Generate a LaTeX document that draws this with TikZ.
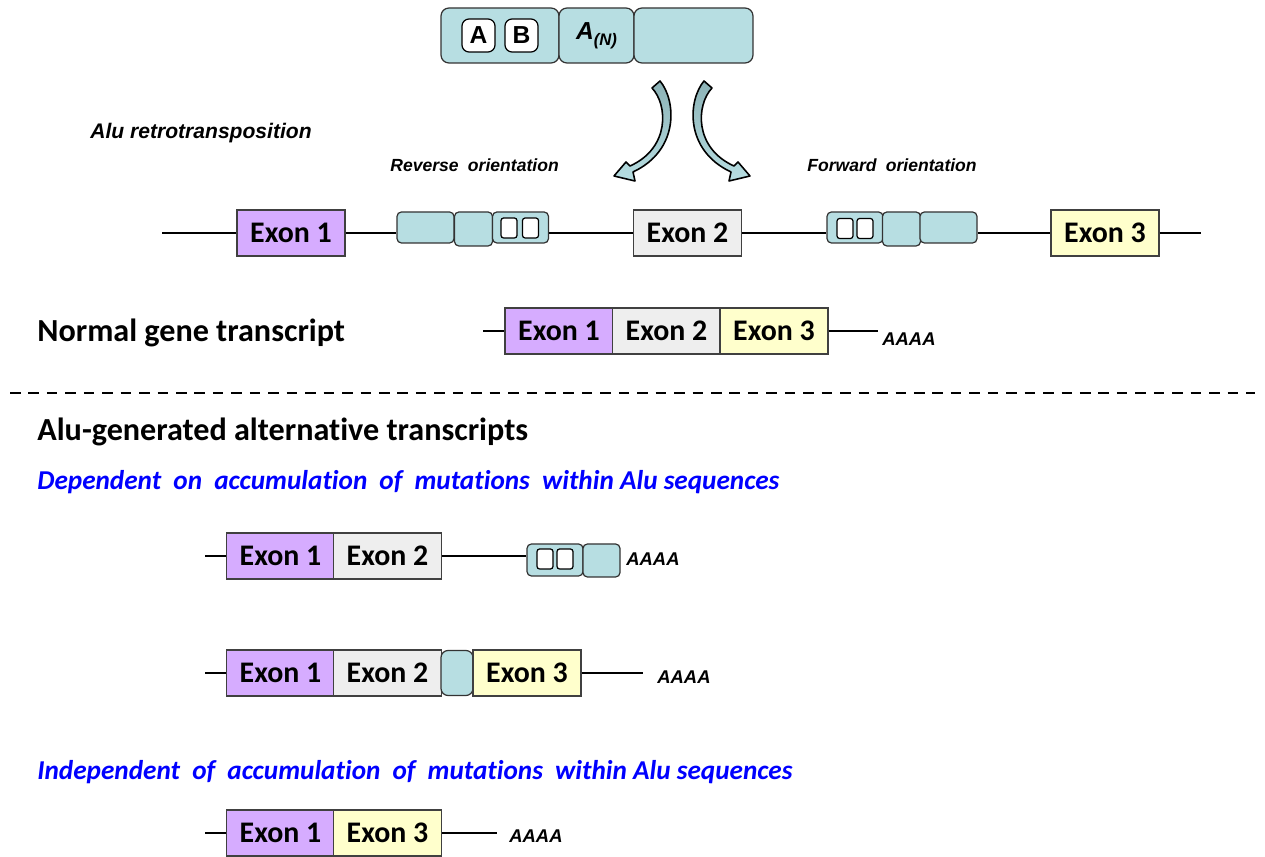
\documentclass[tikz,border=0pt]{standalone}
\usepackage{fontspec}
\setmainfont{Carlito}[Ligatures=NoCommon]
\newfontfamily\arialfont{Liberation Sans}

\definecolor{alufill}{RGB}{183,222,226}
\definecolor{arrowtop}{RGB}{140,178,182}
\definecolor{exonA}{RGB}{214,172,255}
\definecolor{exonB}{RGB}{238,238,238}
\definecolor{exonC}{RGB}{255,255,204}
\definecolor{mutblue}{RGB}{0,0,255}

\tikzset{
  exon/.style={draw=black!75, line width=0.6pt, minimum width=2.16cm,
    minimum height=0.92cm, inner sep=0pt,
    font=\bfseries\fontsize{17}{20}\selectfont},
  aluseg/.style={draw=black!80, fill=alufill, line width=0.7pt,
    rounded corners=2.5pt, inner sep=0pt},
  alubox/.style={draw=black, fill=white, line width=0.7pt,
    rounded corners=1.5pt, minimum width=0.32cm, minimum height=0.40cm,
    inner sep=0pt},
  motif/.style={draw=black, fill=white, line width=0.7pt, rounded corners=4pt,
    minimum size=0.66cm, inner sep=0pt,
    font=\arialfont\bfseries\fontsize{14}{16}\selectfont},
  strand/.style={line width=1.4pt},
  polyA/.style={anchor=west, inner sep=0pt,
    font=\arialfont\bfseries\itshape\fontsize{10.5}{12}\selectfont},
  heading/.style={anchor=west, inner sep=0pt,
    font=\bfseries\fontsize{18.3}{22}\selectfont},
  subhead/.style={anchor=west, inner sep=0pt, text=mutblue,
    font=\bfseries\itshape\fontsize{15.5}{18}\selectfont},
  note/.style={anchor=west, inner sep=0pt,
    font=\arialfont\bfseries\itshape\fontsize{10}{12}\selectfont},
  % bent block arrow, Alu insertion
  bentarrow/.pic={
    \path[top color=arrowtop, bottom color=alufill, draw=black,
          line width=0.9pt, line join=round]
      (660,81) .. controls (676,100) and (680,150) .. (633,172)
      -- (635,181) -- (614,176) -- (626,162) -- (630,166)
      .. controls (670,148) and (668,105) .. (652,88) -- cycle;
  }
}

\begin{document}
\begin{tikzpicture}[x=0.02cm, y=-0.02cm]
  \useasboundingbox (0,0) rectangle (1265,857);

  % Alu element
  \node[aluseg, minimum width=2.36cm, minimum height=1.1cm, rounded corners=4.5pt] (t1) at (500,35.5) {};
  \node[aluseg, minimum width=1.5cm, minimum height=1.1cm, rounded corners=4.5pt] (t2) at (596.5,35.5)
    {\arialfont\bfseries\itshape\fontsize{14}{16}\selectfont A\raisebox{-0.45ex}{\fontsize{9.5}{10}\selectfont (N)}};
  \node[aluseg, minimum width=2.38cm, minimum height=1.1cm, rounded corners=4.5pt] (t3) at (693.5,35.5) {};
  \node[motif] (mA) at (478.5,35.5) {A};
  \node[motif] (mB) at (521.5,35.5) {B};

  \pic {bentarrow};
  \pic[xscale=-1] at (1364,0) {bentarrow};

  \node[note, font=\arialfont\bfseries\itshape\fontsize{12}{14}\selectfont] (retro) at (90,133) {Alu retrotransposition};
  \node[note] (rev) at (390,165) {Reverse\hspace{0.25em} orientation};
  \node[note] (fwd) at (807,165) {Forward\hspace{0.25em} orientation};

  % genomic locus
  \coordinate (gL) at (162,233);
  \coordinate (gR) at (1201,233);
  \node[exon, fill=exonA] (g1) at (291,233) {Exon 1};
  \node[exon, fill=exonB] (g2) at (687.5,233) {Exon 2};
  \node[exon, fill=exonC] (g3) at (1105,233) {Exon 3};

  \node[aluseg, minimum width=1.14cm, minimum height=0.62cm] (r1) at (425.5,227.5) {};
  \node[aluseg, minimum width=0.76cm, minimum height=0.68cm] (r2) at (473.5,229) {};
  \node[aluseg, minimum width=1.12cm, minimum height=0.62cm] (r3) at (520.5,227.5) {};
  \node[alubox] (rb1) at (509,228) {};
  \node[alubox] (rb2) at (530.5,228) {};

  \node[aluseg, minimum width=1.12cm, minimum height=0.62cm] (f1) at (855,227.5) {};
  \node[aluseg, minimum width=0.76cm, minimum height=0.68cm] (f2) at (901.5,229) {};
  \node[aluseg, minimum width=1.14cm, minimum height=0.62cm] (f3) at (948.5,227.5) {};
  \node[alubox] (fb1) at (845,228.5) {};
  \node[alubox] (fb2) at (865,228.5) {};

  \draw[strand] (gL) -- (g1.west);
  \draw[strand] (g1.east) -- (g1.east -| r1.west);
  \draw[strand] (g2.west -| r3.east) -- (g2.west);
  \draw[strand] (g2.east) -- (g2.east -| f1.west);
  \draw[strand] (g3.west -| f3.east) -- (g3.west);
  \draw[strand] (g3.east) -- (gR);

  % normal transcript
  \node[heading] (normal) at (37,333) {Normal gene transcript};
  \coordinate (nL) at (483,331);
  \coordinate (nR) at (878,331);
  \node[exon, fill=exonA] (n1) at (559,331) {Exon 1};
  \node[exon, fill=exonB] (n2) at (666.5,331) {Exon 2};
  \node[exon, fill=exonC] (n3) at (774,331) {Exon 3};
  \node[polyA] (nA) at (882,339) {AAAA};
  \draw[strand] (nL) -- (n1.west);
  \draw[strand] (n3.east) -- (nR);

  \coordinate (dL) at (10,393);
  \coordinate (dR) at (1255,393);
  \draw[line width=1pt, dash pattern=on 6pt off 4.5pt] (dL) -- (dR);

  % alternative transcripts
  \node[heading] (alt) at (37,432) {Alu-generated alternative transcripts};
  \node[subhead] (dep) at (37,482) {Dependent\hspace{0.22em} on\hspace{0.22em} accumulation\hspace{0.22em} of\hspace{0.22em} mutations\hspace{0.22em} within Alu sequences};

  \coordinate (aL) at (205,556);
  \node[exon, fill=exonA] (a1) at (280.5,556) {Exon 1};
  \node[exon, fill=exonB] (a2) at (387.5,556) {Exon 2};
  \node[aluseg, minimum width=1.12cm, minimum height=0.64cm] (as1) at (555,560) {};
  \node[aluseg, minimum width=0.74cm, minimum height=0.66cm] (as2) at (601.5,560.5) {};
  \node[alubox] (ab1) at (545,559) {};
  \node[alubox] (ab2) at (565,559) {};
  \node[polyA] (aA) at (626,559) {AAAA};
  \draw[strand] (aL) -- (a1.west);
  \draw[strand] (a2.east) -- (a2.east -| as1.west);

  \coordinate (bL) at (205,673);
  \coordinate (bR) at (643,673);
  \node[exon, fill=exonA] (b1) at (280.5,673) {Exon 1};
  \node[exon, fill=exonB] (b2) at (387.5,673) {Exon 2};
  \node[aluseg, minimum width=0.64cm, minimum height=0.9cm, rounded corners=4pt] (bs) at (457,673) {};
  \node[exon, fill=exonC] (b3) at (527,673) {Exon 3};
  \node[polyA] (bA) at (657,677) {AAAA};
  \draw[strand] (bL) -- (b1.west);
  \draw[strand] (b3.east) -- (bR);

  \node[subhead] (indep) at (37,772) {Independent\hspace{0.22em} of\hspace{0.22em} accumulation\hspace{0.22em} of\hspace{0.22em} mutations\hspace{0.22em} within Alu sequences};

  \coordinate (cL) at (205,833);
  \coordinate (cR) at (497,833);
  \node[exon, fill=exonA] (c1) at (280.5,833) {Exon 1};
  \node[exon, fill=exonC] (c3) at (387.5,833) {Exon 3};
  \node[polyA] (cA) at (509,836) {AAAA};
  \draw[strand] (cL) -- (c1.west);
  \draw[strand] (c3.east) -- (cR);
\end{tikzpicture}
\end{document}
